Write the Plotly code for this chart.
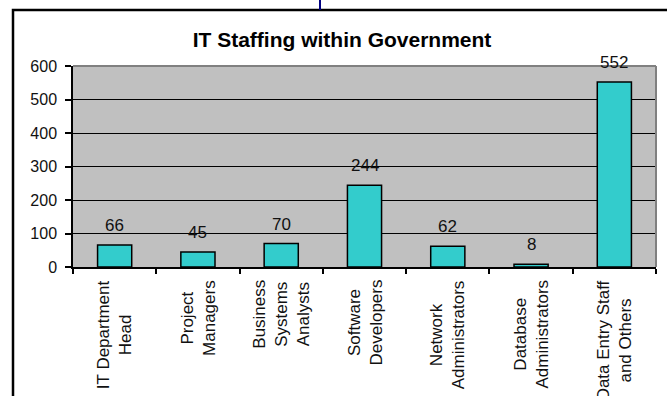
import plotly.graph_objects as go

categories = ["IT Department<br>Head", "Project<br>Managers", "Business<br>Systems<br>Analysts",
              "Software<br>Developers", "Network<br>Administrators", "Database<br>Administrators",
              "Data Entry Staff<br>and Others"]
values = [66, 45, 70, 244, 62, 8, 552]
y_ticks = [0, 100, 200, 300, 400, 500, 600]
title_text = "IT Staffing within Government"

FONT = "Arial, Liberation Sans, sans-serif"

fig = go.Figure()
fig.add_trace(go.Bar(
    x=categories, y=values,
    marker=dict(color="#33CCCC", line=dict(color="black", width=1.5)),
    showlegend=False, hoverinfo="skip",
))

# value labels above bars
for c, v in zip(categories, values):
    fig.add_annotation(x=c, y=v, text=str(v), showarrow=False, yanchor="bottom",
                       yshift=8, font=dict(family=FONT, size=17, color="#111"))

# category labels, rotated, lines centred
for c in categories:
    fig.add_annotation(x=c, y=0, text=c, showarrow=False, textangle=-90, align="center",
                       xanchor="center", yanchor="top", yshift=-11,
                       font=dict(family=FONT, size=17, color="#111"))

fig.update_layout(
    width=667, height=396,
    margin=dict(l=73, r=11, t=66, b=129, autoexpand=False),
    paper_bgcolor="white", plot_bgcolor="#C0C0C0",
    bargap=0.59,
    font=dict(family=FONT, size=17, color="#111"),
    title=dict(text="<b>" + title_text + "</b>", xref="container", x=342 / 667,
               xanchor="center", yref="container", y=1 - 40 / 396, yanchor="middle",
               font=dict(family=FONT, size=21, color="black")),
    xaxis=dict(showline=True, linecolor="black", linewidth=1.5, ticks="outside",
               tickson="boundaries", ticklen=5, tickwidth=1.5, tickcolor="black",
               showticklabels=False, showgrid=False, automargin=False),
    yaxis=dict(range=[0, 600], tickvals=y_ticks, showline=True, linecolor="black",
               linewidth=1.5, ticks="outside", ticklen=6, tickwidth=1.5, tickcolor="black",
               showgrid=True, gridcolor="black", gridwidth=1, zeroline=False,
               automargin=False, ticklabelstandoff=5,
               tickfont=dict(family=FONT, size=16, color="#111")),
)

# plot-area top/right border (gray)
fig.add_shape(type="line", xref="paper", yref="paper", x0=0, x1=1, y0=1, y1=1,
              line=dict(color="#808080", width=2), layer="above")
fig.add_shape(type="line", xref="paper", yref="paper", x0=1, x1=1, y0=0, y1=1,
              line=dict(color="#808080", width=2), layer="above")
# outer chart frame
fig.add_shape(type="rect", xref="paper", yref="paper", x0=(13 - 73) / 583, x1=1.2,
              y0=-1.0, y1=1 + (66 - 10) / 201, line=dict(color="black", width=2.5),
              fillcolor="rgba(0,0,0,0)", layer="above")
# small navy connector line at top
fig.add_shape(type="line", xref="paper", yref="paper", x0=(320 - 73) / 583, x1=(320 - 73) / 583,
              y0=1 + (66 - 10) / 201, y1=1 + 66 / 201, line=dict(color="#000080", width=2),
              layer="above")

fig.write_html("out.html", config={"displayModeBar": False},
               post_script="document.body.style.margin='0';document.body.style.overflow='hidden';")
